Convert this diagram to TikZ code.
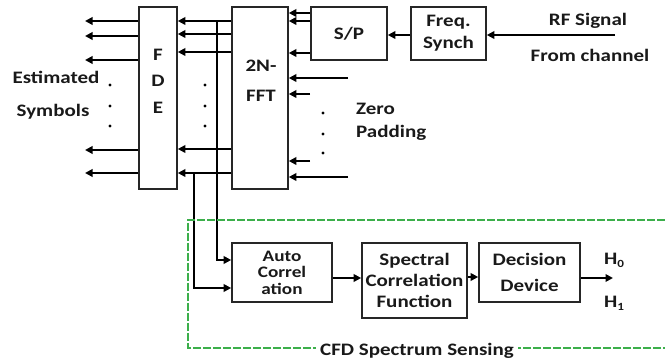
\documentclass[tikz,border=0pt]{standalone}
\usepackage{fontspec}
\setmainfont{Carlito}[FakeStretch=1.2]
\usetikzlibrary{arrows.meta}
\definecolor{boxgreen}{RGB}{60,175,75}
\begin{document}
\begin{tikzpicture}[x=1pt,y=-1pt,
  blk/.style={draw=black!85,line width=1.6pt,inner sep=0pt},
  txt/.style={font=\fontsize{17.5}{21}\selectfont\bfseries,text=black!90,inner sep=0pt,align=center},
  ar/.style={line width=1.8pt,-{Triangle[length=7.5pt,width=7.5pt]}},
  ln/.style={line width=1.8pt},
  dotm/.style={circle,fill=black,inner sep=0pt,minimum size=3.2pt},
  frame/.style={draw=boxgreen,line width=1.5pt,dash pattern=on 8pt off 2pt}]
\useasboundingbox (0,0) rectangle (665,363);
% boxes
\node[blk,minimum width=38pt,minimum height=182pt] (fde) at (158,98) {};
\node[blk,minimum width=56pt,minimum height=182pt] (fft) at (260,98) {};
\node[blk,minimum width=76pt,minimum height=53pt,txt] (sp) at (349,33.5) {S/P};
\node[blk,minimum width=75pt,minimum height=53pt,txt,font=\fontsize{17.5}{22}\selectfont\bfseries] (fs) at (448.5,33.5) {Freq.\\Synch};
\node[blk,minimum width=100pt,minimum height=59pt,txt,font=\fontsize{16}{16.5}\selectfont\bfseries] (auto) at (282,272.5) {Auto\\Correl\\ation};
\node[blk,minimum width=105pt,minimum height=75pt,txt] (scf) at (414.5,280.5) {Spectral\\Correlation\\Function};
\node[blk,minimum width=101pt,minimum height=59pt,txt,font=\fontsize{17.5}{26}\selectfont\bfseries] (dd) at (529.5,272.5) {Decision\\Device};
% box labels
\node[txt,font=\fontsize{17.5}{26.5}\selectfont\bfseries] (fdet) at (158,81) {F\\D\\E};
\node[txt,font=\fontsize{17.5}{30}\selectfont\bfseries] (fftt) at (261,81) {2N-\\FFT};
% input chain
\coordinate (rfin) at (615,35);
\draw[ar] (rfin) -- (fs.east |- rfin);
\draw[ar] (fs.west |- 0,35) -- (sp.east |- 0,35);
\foreach \y in {13,21,53} \draw[ar] (sp.west |- 0,\y) -- (fft.east |- 0,\y);
\foreach \x/\y in {348/78,310/94,310/161,348/177} {
  \coordinate (zp) at (\x,\y);
  \draw[ar] (zp) -- (fft.east |- zp);
}
% FFT to FDE
\foreach \y in {21,34,52,149,173} \draw[ar] (fft.west |- 0,\y) -- (fde.east |- 0,\y);
% FDE outputs
\foreach \y in {21,36,60,150,173} {
  \coordinate (out) at (85,\y);
  \draw[ar] (fde.west |- out) -- (out);
}
% taps to auto correlation
\coordinate (tapa) at (217,21);
\coordinate (tapb) at (194,173);
\draw[ar] (tapa) |- (auto.west |- 0,260);
\draw[ar] (tapb) |- (auto.west |- 0,288);
% sensing chain
\draw[ar] (auto.east |- 0,278) -- (scf.west |- 0,278);
\draw[ar] (scf.east |- 0,277) -- (dd.west |- 0,277);
\coordinate (hout) at (613,278);
\draw[ar] (dd.east |- hout) -- (hout);
% dots
\foreach \x in {110,205} \foreach \y in {85,106,126} \node[dotm] at (\x,\y) {};
\foreach \y in {113,134,153} \node[dotm] at (323,\y) {};
% texts
\node[txt,anchor=base] (est) at (56,84) {Estimated};
\node[txt,anchor=base] (sym) at (53,117) {Symbols};
\node[txt,anchor=base west] (zero) at (356,115) {Zero};
\node[txt,anchor=base west] (pad) at (356,138) {Padding};
\node[txt,anchor=base] (rf) at (588,26) {RF Signal};
\node[txt,anchor=base] (fc) at (590,62) {From channel};
\node[txt,anchor=base west] (h0) at (604,265) {H\raisebox{-3pt}{\fontsize{11}{11}\selectfont 0}};
\node[txt,anchor=base west] (h1) at (604,308) {H\raisebox{-3pt}{\fontsize{11}{11}\selectfont 1}};
% green frame
\draw[frame] (665,220) -- (188,220) -- (188,348) -- (665,348);
\node[txt,anchor=base,fill=white,inner xsep=4pt,inner ysep=2pt] (cfd) at (417,356) {CFD Spectrum Sensing};
\end{tikzpicture}
\end{document}
